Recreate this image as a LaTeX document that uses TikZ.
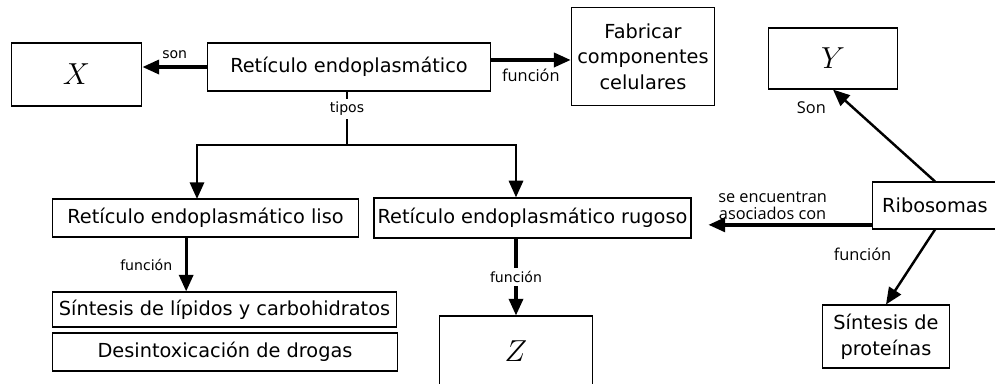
\documentclass[tikz,border=0pt]{standalone}
\usepackage{fontspec}
\setmainfont{DejaVu Sans}
\newfontfamily\lblfont{Open Sans}
\usepackage{tikz}
\usetikzlibrary{arrows.meta,positioning,calc}
\tikzset{every picture/.style={line width=0.75pt}}
\tikzstyle{caja}=[draw,rectangle,inner sep=2pt,align=center,font=\fontsize{11}{14.6}\selectfont]
\tikzstyle{letra}=[draw,rectangle,inner sep=2pt,font=\fontsize{17}{20}\selectfont]
\tikzstyle{etiq}=[font=\fontsize{8}{9}\selectfont,inner sep=1pt]
\tikzstyle{etiqb}=[font=\fontsize{9.3}{9.6}\lblfont,inner sep=1pt,align=center]

\begin{document}
\begin{tikzpicture}[x=0.02cm,y=-0.02cm]
\useasboundingbox (0,0) rectangle (995,383);
\node[letra,minimum width=74.3pt,minimum height=35.7pt] (X) at (76.5,74.5) {$X$};
\node[caja,minimum width=161pt,minimum height=27.2pt] (RE) at (349,67) {Retículo endoplasmático};
\node[caja,minimum width=81.6pt,minimum height=56.1pt] (Fab) at (643,56.5) {Fabricar\\componentes\\celulares};
\node[letra,minimum width=73.7pt,minimum height=34.6pt] (Y) at (833,58.5) {$Y$};
\node[caja,minimum width=174pt,minimum height=21.5pt] (REL) at (205.5,218) {Retículo endoplasmático liso};
\node[caja,minimum width=176.3pt,minimum height=22.7pt] (RER) at (532.5,218) {Retículo endoplasmático rugoso};
\node[caja,minimum width=71.4pt,minimum height=26.6pt] (Rib) at (935,205.5) {Ribosomas};
\node[caja,minimum width=195.6pt,minimum height=19.8pt] (SL) at (224.5,309.5) {Síntesis de lípidos y carbohidratos};
\node[caja,minimum width=196.1pt,minimum height=21.5pt] (DD) at (225,352) {Desintoxicación de drogas};
\node[letra,minimum width=87.3pt,minimum height=39.7pt] (Z) at (516,351) {$Z$};
\node[caja,minimum width=72.6pt,minimum height=35.7pt] (SP) at (886,336.5) {Síntesis de\\proteínas};
\coordinate (split) at (347,145);
\coordinate (lisoIn) at (197,199);
\path[-{Triangle[length=9.5pt,width=8pt]},line width=1.9pt]
(RE.west) edge node[etiq,above=3pt]{son} (RE.west -| X.east)
([yshift=4pt]RE.east) edge node[etiqb,below=3pt]{función} ([yshift=4pt]RE.east -| Fab.west)
([xshift=-11pt]REL.south) edge node[etiq,left=6pt]{función} ([xshift=-11pt]REL.south |- SL.north)
(Z.north |- RER.south) edge node[etiq,fill=white,inner sep=2pt]{función} (Z.north)
([yshift=-11pt]Rib.west) edge[shorten >=9.6pt] node[etiqb,above=1pt,pos=0.55]{se encuentran\\asociados con} ([yshift=-11pt]Rib.west -| RER.east);
\path[-{Triangle[length=9.5pt,width=8pt]},line width=1.4pt]
(Rib.north) edge node[etiqb,pos=0.8,left=14pt]{Son} (Y.south)
(Rib.south) edge node[etiqb,pos=0.33,left=14pt]{función} (SP.north);
% tipos
\draw[line width=1.7pt] (RE.south -| split) -- (split);
\draw[-{Triangle[length=9.5pt,width=8pt]},line width=1.7pt] (split) -| (lisoIn);
\draw[-{Triangle[length=9.5pt,width=8pt]},line width=1.7pt] (split) -| (Z.north |- RER.north);
\node[etiq,fill=white,inner sep=2pt] (tipos) at (347,109) {tipos};
\end{tikzpicture}
\end{document}
